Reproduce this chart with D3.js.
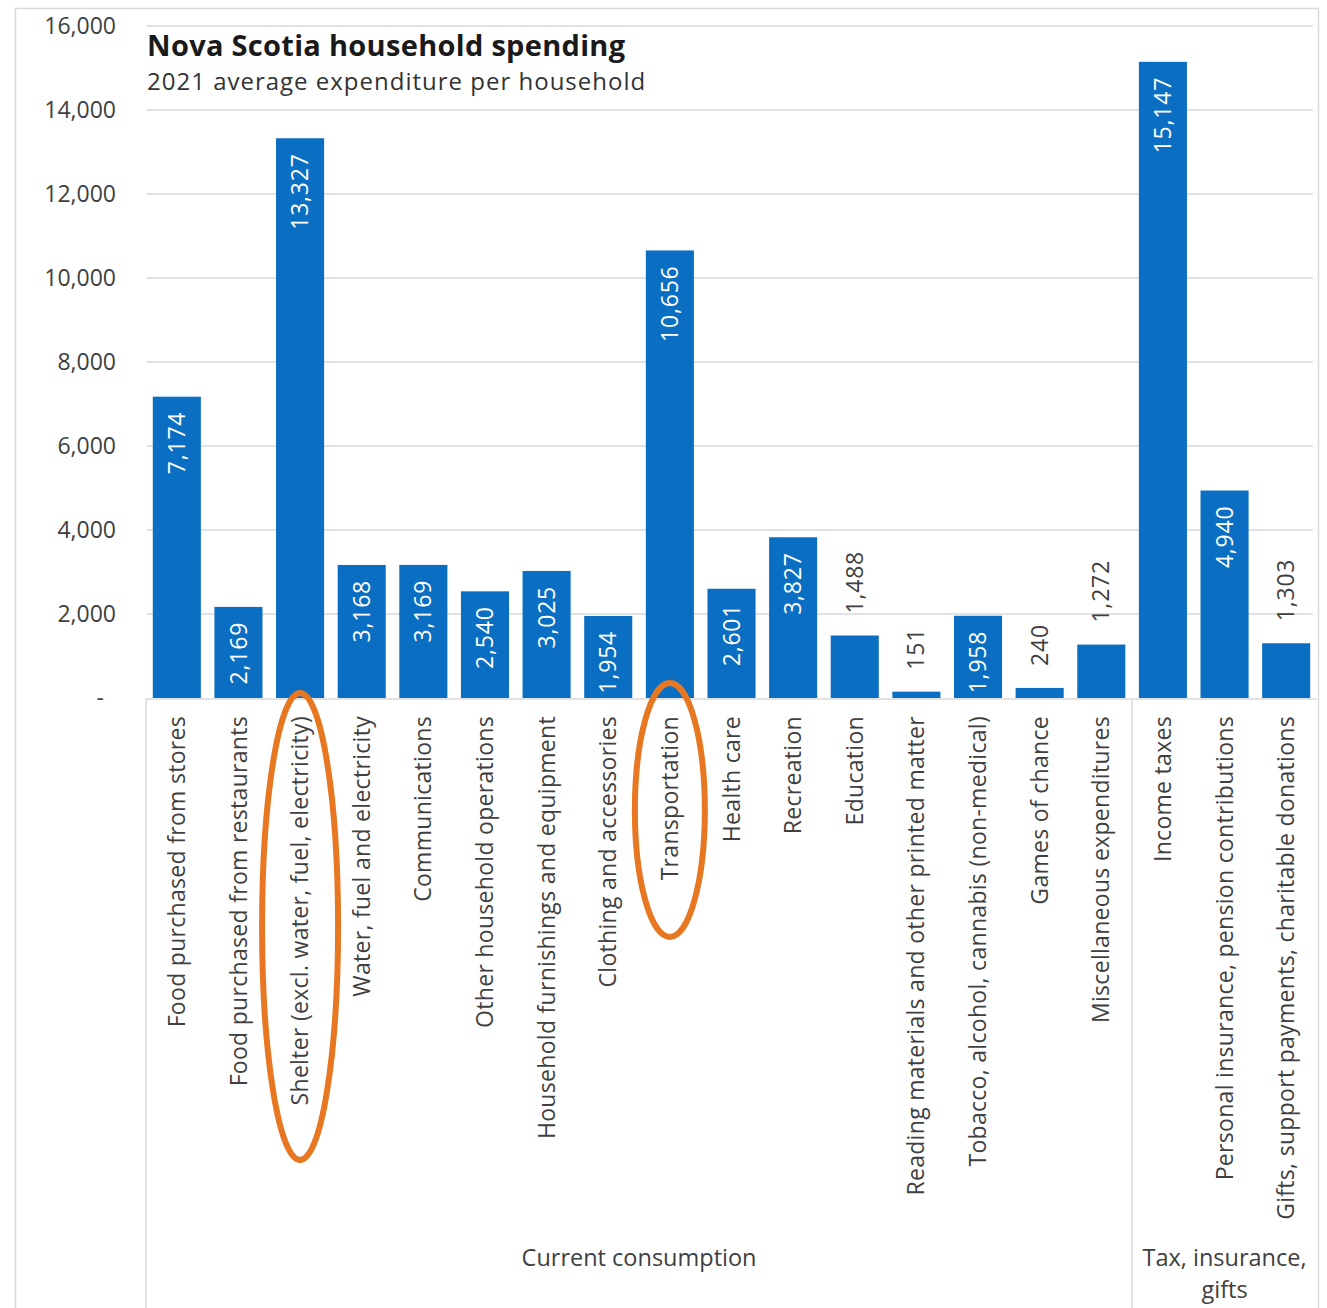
<!DOCTYPE html>
<html>
<head>
<meta charset="utf-8">
<script src="https://cdn.jsdelivr.net/npm/d3@7"></script>
<style>
  body { margin: 0; background: #fff; }
  svg { display: block; font-family: "Open Sans", sans-serif; }
</style>
</head>
<body>
<svg id="chart"></svg>
<script>
const categories = [
  'Food purchased from stores',
  'Food purchased from restaurants',
  'Shelter (excl. water, fuel, electricity)',
  'Water, fuel and electricity',
  'Communications',
  'Other household operations',
  'Household furnishings and equipment',
  'Clothing and accessories',
  'Transportation',
  'Health care',
  'Recreation',
  'Education',
  'Reading materials and other printed matter',
  'Tobacco, alcohol, cannabis (non-medical)',
  'Games of chance',
  'Miscellaneous expenditures',
  'Income taxes',
  'Personal insurance, pension contributions',
  'Gifts, support payments, charitable donations'
];
const values = [7174, 2169, 13327, 3168, 3169, 2540, 3025, 1954, 10656, 2601, 3827, 1488, 151, 1958, 240, 1272, 15147, 4940, 1303];
const groups = [
  { name: ['Current consumption'], first: 0, last: 15 },
  { name: ['Tax, insurance,', 'gifts'], first: 16, last: 18 }
];
const yTicks = [0, 2000, 4000, 6000, 8000, 10000, 12000, 14000, 16000];
const highlighted = ['Shelter (excl. water, fuel, electricity)', 'Transportation'];
// values too small for an inside label
const outsideLabels = ['Education', 'Reading materials and other printed matter', 'Games of chance', 'Miscellaneous expenditures', 'Gifts, support payments, charitable donations'];

const width = 1327, height = 1308;
const svg = d3.select('#chart').attr('width', width).attr('height', height);

// outer frame
svg.append('rect')
  .attr('x', 15.5).attr('y', 8.5)
  .attr('width', 1303).attr('height', 1310)
  .attr('fill', 'none').attr('stroke', '#d9d9d9').attr('stroke-width', 1.5);

const x = d3.scaleBand().domain(categories).range([146, 1317]).paddingInner(0.22).paddingOuter(0.11);
const y = d3.scaleLinear().domain([0, 16000]).range([698, 26]);

// gridlines
svg.append('g').selectAll('line')
  .data(yTicks.filter(d => d > 0))
  .enter().append('line')
  .attr('x1', 147).attr('x2', 1313)
  .attr('y1', d => y(d)).attr('y2', d => y(d))
  .attr('stroke', '#d9d9d9').attr('stroke-width', 1.5);

// y tick labels
const fmt = d3.format(',');
svg.append('g').selectAll('text')
  .data(yTicks)
  .enter().append('text')
  .attr('x', d => d === 0 ? 104 : 116)
  .attr('y', d => y(d))
  .attr('dy', '0.35em')
  .attr('text-anchor', 'end')
  .style('font-size', '23px')
  .style('fill', '#404040')
  .text(d => d === 0 ? '-' : fmt(d));

// bars
svg.append('g').selectAll('rect')
  .data(values)
  .enter().append('rect')
  .attr('x', (d, i) => x(categories[i]))
  .attr('y', d => y(d))
  .attr('width', x.bandwidth())
  .attr('height', d => y(0) - y(d))
  .attr('fill', '#0a6fc2');

// value labels
svg.append('g').selectAll('text')
  .data(values)
  .enter().append('text')
  .attr('transform', (d, i) => {
    const cx = x(categories[i]) + x.bandwidth() / 2;
    const outside = outsideLabels.includes(categories[i]);
    const ty = outside ? y(d) - 22 : y(d) + 15;
    return `translate(${cx},${ty}) rotate(-90)`;
  })
  .attr('dy', '0.35em')
  .attr('text-anchor', (d, i) => outsideLabels.includes(categories[i]) ? 'start' : 'end')
  .style('font-size', '23px')
  .style('letter-spacing', '0.8px')
  .style('fill', (d, i) => outsideLabels.includes(categories[i]) ? '#404040' : '#fff')
  .text(d => fmt(d));

// category axis
svg.append('line')
  .attr('x1', 146).attr('x2', 1317)
  .attr('y1', y(0) + 1).attr('y2', y(0) + 1)
  .attr('stroke', '#d9d9d9').attr('stroke-width', 1.5);

const step = x.step();
const bounds = [146, x(categories[groups[1].first]) - step * x.paddingInner() / 2];
svg.append('g').selectAll('line')
  .data(bounds)
  .enter().append('line')
  .attr('x1', d => d).attr('x2', d => d)
  .attr('y1', y(0) + 1).attr('y2', height)
  .attr('stroke', '#d9d9d9').attr('stroke-width', 1.5);

svg.append('g').selectAll('text')
  .data(categories)
  .enter().append('text')
  .attr('transform', d => `translate(${x(d) + x.bandwidth() / 2},716) rotate(-90)`)
  .attr('dy', '0.35em')
  .attr('text-anchor', 'end')
  .style('font-size', '23px')
  .style('letter-spacing', '0.3px')
  .style('fill', '#404040')
  .text(d => d);

// group labels
groups.forEach(g => {
  const cx = (x(categories[g.first]) + x(categories[g.last]) + x.bandwidth()) / 2;
  const t = svg.append('text')
    .attr('x', cx).attr('y', 1266)
    .attr('text-anchor', 'middle')
    .style('font-size', '23.5px')
    .style('fill', '#404040');
  g.name.forEach((line, j) => {
    t.append('tspan').attr('x', cx).attr('dy', j === 0 ? 0 : 32).text(line);
  });
});

// title
svg.append('text')
  .attr('x', 147).attr('y', 56)
  .style('font-size', '29px').style('font-weight', 'bold')
  .style('letter-spacing', '0.3px')
  .style('fill', '#1a1a1a')
  .text('Nova Scotia household spending');
svg.append('text')
  .attr('x', 147).attr('y', 90)
  .style('font-size', '24px')
  .style('letter-spacing', '1px')
  .style('fill', '#333')
  .text('2021 average expenditure per household');

// orange highlight ellipses
const ellipses = [
  { cat: highlighted[0], top: 693, bottom: 1160, rx: 38 },
  { cat: highlighted[1], top: 683, bottom: 937, rx: 35 }
];
svg.append('g').selectAll('ellipse')
  .data(ellipses)
  .enter().append('ellipse')
  .attr('cx', d => x(d.cat) + x.bandwidth() / 2)
  .attr('cy', d => (d.top + d.bottom) / 2)
  .attr('rx', d => d.rx)
  .attr('ry', d => (d.bottom - d.top) / 2)
  .attr('fill', 'none')
  .attr('stroke', '#e87722')
  .attr('stroke-width', 6);
</script>
</body>
</html>
